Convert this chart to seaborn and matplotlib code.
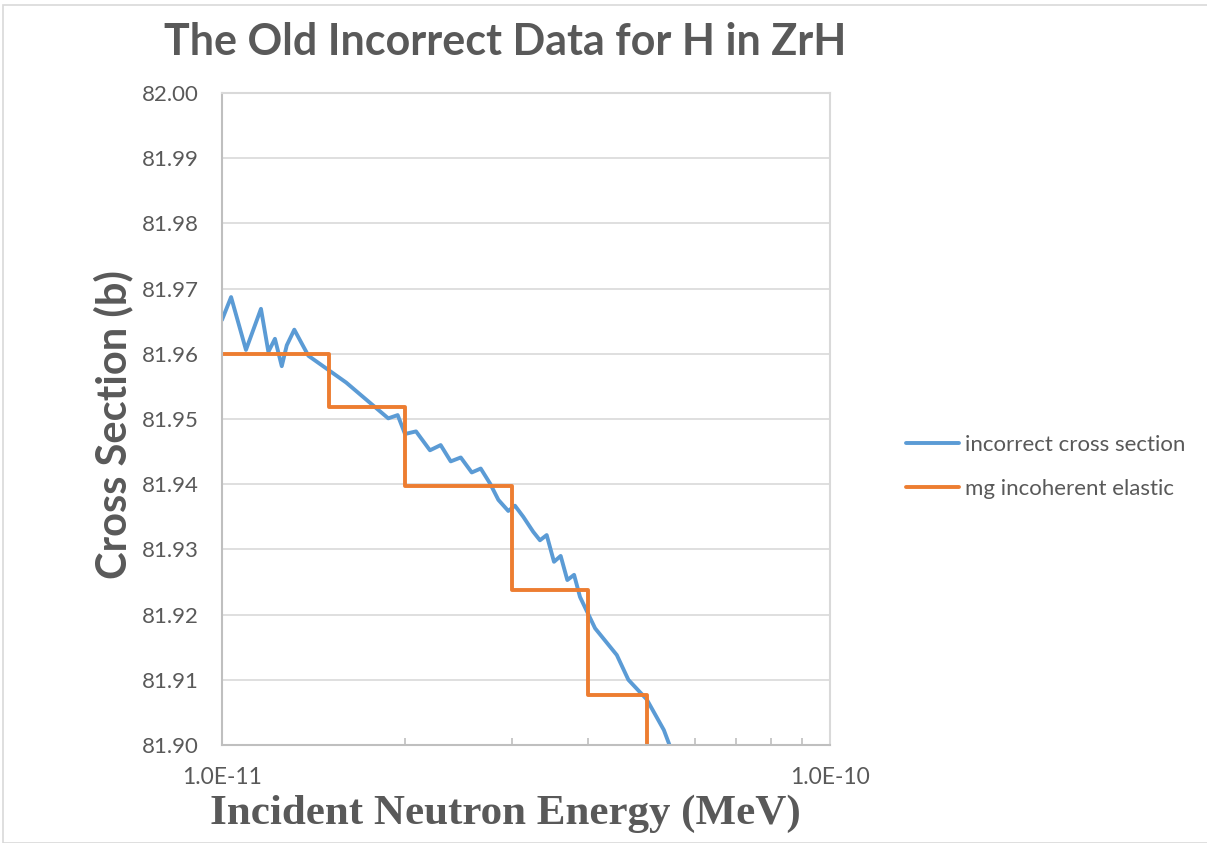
import matplotlib
matplotlib.use("Agg")
import matplotlib.pyplot as plt
import seaborn as sns
import pandas as pd
import numpy as np
from matplotlib.ticker import LogLocator, NullFormatter
from matplotlib.patches import Rectangle

# ---- data ----
blue_energy = [1.000e-11, 1.035e-11, 1.095e-11, 1.159e-11, 1.192e-11, 1.222e-11, 1.254e-11,
               1.278e-11, 1.315e-11, 1.387e-11, 1.600e-11, 1.877e-11, 1.945e-11, 2.000e-11,
               2.085e-11, 2.198e-11, 2.289e-11, 2.378e-11, 2.470e-11, 2.575e-11, 2.664e-11,
               2.760e-11, 2.848e-11, 2.957e-11, 3.033e-11, 3.130e-11, 3.250e-11, 3.334e-11,
               3.420e-11, 3.516e-11, 3.606e-11, 3.698e-11, 3.794e-11, 3.880e-11, 4.108e-11,
               4.460e-11, 4.660e-11, 4.995e-11, 5.330e-11, 5.455e-11, 5.600e-11]
blue_xs = [81.9652, 81.9687, 81.9606, 81.9669, 81.9603, 81.9623, 81.9581,
           81.9613, 81.9637, 81.9597, 81.9556, 81.9501, 81.9506, 81.9477,
           81.9481, 81.9452, 81.9460, 81.9435, 81.9441, 81.9418, 81.9424,
           81.9401, 81.9376, 81.9359, 81.9367, 81.9350, 81.9327, 81.9314,
           81.9322, 81.9281, 81.9290, 81.9253, 81.9261, 81.9227, 81.9179,
           81.9138, 81.9100, 81.9070, 81.9023, 81.8998, 81.8970]

orange_energy = [1.0e-11, 1.5e-11, 2.0e-11, 3.0e-11, 4.0e-11, 5.0e-11]
orange_xs = [81.9600, 81.9518, 81.9398, 81.9238, 81.9077, 81.8900]

y_ticks = [81.90, 81.91, 81.92, 81.93, 81.94, 81.95, 81.96, 81.97, 81.98, 81.99, 82.00]
x_ticks = [1e-11, 1e-10]
x_tick_labels = ["1.0E-11", "1.0E-10"]

title = "The Old Incorrect Data for H in ZrH"
xlabel = "Incident Neutron Energy (MeV)"
ylabel = "Cross Section (b)"
label_blue = "incorrect cross section"
label_orange = "mg incoherent elastic"

BLUE = "#5B9BD5"
ORANGE = "#ED7D31"
GRAY = "#595959"
GRID = "#D9D9D9"

sns.set_theme(style="white")
plt.rcParams['font.family'] = ['Lato', 'DejaVu Sans']

fig = plt.figure(figsize=(12.07, 8.43), dpi=100)
ax = fig.add_axes([222/1207, 1-745/843, (830-222)/1207, (745-93)/843])

df_b = pd.DataFrame({"E": blue_energy, "xs": blue_xs})
df_o = pd.DataFrame({"E": orange_energy, "xs": orange_xs})

sns.lineplot(data=df_b, x="E", y="xs", ax=ax, color=BLUE, linewidth=2.8,
             label=label_blue, sort=False, estimator=None)
sns.lineplot(data=df_o, x="E", y="xs", ax=ax, color=ORANGE, linewidth=2.8,
             label=label_orange, sort=False, estimator=None, drawstyle="steps-post")

ax.set_xscale("log")
ax.set_xlim(1e-11, 1e-10)
ax.set_ylim(81.90, 82.00)
ax.set_yticks(y_ticks)
ax.set_yticklabels([f"{v:.2f}" for v in y_ticks])
ax.set_xticks(x_ticks)
ax.set_xticklabels(x_tick_labels)
ax.xaxis.set_minor_locator(LogLocator(base=10, subs=np.arange(2, 10)))
ax.xaxis.set_minor_formatter(NullFormatter())

ax.grid(axis="y", color=GRID, linewidth=1.2)
ax.grid(axis="x", visible=False)
ax.set_axisbelow(True)
for s in ["left", "right", "top", "bottom"]:
    ax.spines[s].set_color(GRID)
    ax.spines[s].set_linewidth(1.5)
ax.spines["left"].set_color("#BFBFBF")
ax.spines["bottom"].set_color("#BFBFBF")

ax.tick_params(axis="y", which="both", length=0, pad=16.5, labelsize=16, labelcolor=GRAY)
ax.tick_params(axis="x", which="major", length=0, pad=16, labelsize=16.5, labelcolor=GRAY)
ax.tick_params(axis="x", which="minor", direction="in", length=5, width=1.2, color="#BFBFBF", bottom=True)

ax.set_xlabel(xlabel, family=["Liberation Serif"], fontweight="bold", fontsize=31,
              color=GRAY)
ax.xaxis.set_label_coords((505 - 222) / 608, -(795 - 745) / 652)
ax.set_ylabel(ylabel, fontweight="bold", fontsize=30, color=GRAY)
ax.yaxis.set_label_coords((133 - 222) / 608, (745 - 425) / 652)
fig.text(505/1207, 1-42/843, title, ha="center", va="center", fontsize=31,
         fontweight="bold", color=GRAY)

leg = ax.legend(loc="center left", bbox_to_anchor=((906 - 222) / 608, (745 - 467) / 652),
                frameon=False, borderpad=0, borderaxespad=0,
                fontsize=16, handlelength=2.4, labelspacing=1.1, handletextpad=0.25)
for t in leg.get_texts():
    t.set_color(GRAY)

fig.patches.append(Rectangle((3/1207, 0), 1.0, 1-5/843, transform=fig.transFigure,
                             fill=False, edgecolor="#D9D9D9", linewidth=1.2))

fig.savefig("out.png", dpi=100)
